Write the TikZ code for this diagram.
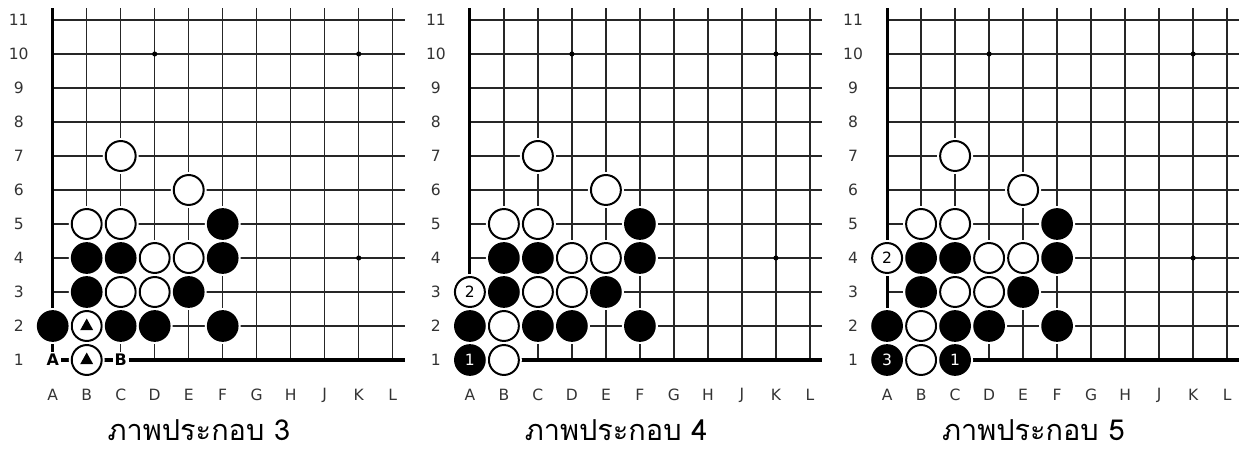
\documentclass[tikz,border=0pt]{standalone}
\usepackage{fontspec}
\setmainfont{DejaVu Sans}
\newfontfamily\thaifont[Script=Thai]{Loma}

\begin{document}
\begin{tikzpicture}[x=0.6cm,y=0.6cm,line join=miter,
  gridline/.style={line width=0.7pt,draw=black!85},
  edgeline/.style={line width=1.6pt},
  stonebase/.style={circle,inner sep=0pt,minimum size=0.528cm,
    preaction={draw=white,line width=3pt},font=\fontsize{7.8}{7.8}\selectfont},
  bstone/.style={stonebase,fill=black,draw=black,line width=0.9pt,text=white},
  wstone/.style={stonebase,fill=white,draw=black,line width=1pt,text=black},
  coordlbl/.style={font=\fontsize{7.8}{7.8}\selectfont,text=black!80},
  letterlbl/.style={fill=white,inner sep=1pt,font=\bfseries\fontsize{8}{8}\selectfont},
  caption/.style={anchor=base,inner sep=0pt,text depth=0pt,
    font=\thaifont\fontsize{14.5}{14.5}\selectfont}]
  \useasboundingbox (0,0) rectangle (36.44,13.235);
  \foreach \k/\num in {0/3,1/4,2/5} {
    \begin{scope}[shift={({1.55+12.27*\k},2.647)}]
      % grid
      \foreach \c in {1,...,10}
        \draw[gridline] (\c,0) -- (\c,10.35);
      \foreach \r in {1,...,10}
        \draw[gridline] (0,\r) -- (10.35,\r);
      \draw[edgeline] (0,10.35) -- (0,0) -- (10.35,0);
      \foreach \p in {(3,9),(9,9),(9,3)}
        \fill \p circle (0.075);
      % coordinates
      \foreach \r in {1,...,11}
        \node[coordlbl] (row\k-\r) at (-1,\r-1) {\r};
      \foreach \l [count=\i from 0] in {A,B,C,D,E,F,G,H,J,K,L}
        \node[coordlbl] (col\k-\l) at (\i,-1.03) {\l};
      % stones
      \foreach \x/\y [count=\n] in {2/6,4/5,1/4,2/4,3/3,4/3,2/2,3/2,1/1,1/0}
        \node[wstone] (w\k-\n) at (\x,\y) {};
      \foreach \x/\y [count=\n] in {5/4,1/3,2/3,5/3,1/2,4/2,0/1,2/1,3/1,5/1}
        \node[bstone] (b\k-\n) at (\x,\y) {};
      \node[caption] (cap\k) at (4.3,-2.36) {ภาพประกอบ \num};
    \end{scope}
  }
  % picture 3
  \begin{scope}[shift={(1.55,2.647)}]
    \fill (1,1) ++(-0.19,-0.12) -- ++(0.38,0) -- ++(-0.19,0.34) -- cycle;
    \fill (1,0) ++(-0.19,-0.12) -- ++(0.38,0) -- ++(-0.19,0.34) -- cycle;
    \node[letterlbl] (markA) at (0,0) {A};
    \node[letterlbl] (markB) at (2,0) {B};
  \end{scope}
  % picture 4
  \begin{scope}[shift={(13.82,2.647)}]
    \node[wstone] (mv4-2) at (0,2) {2};
    \node[bstone] (mv4-1) at (0,0) {1};
  \end{scope}
  % picture 5
  \begin{scope}[shift={(26.09,2.647)}]
    \node[wstone] (mv5-2) at (0,3) {2};
    \node[bstone] (mv5-3) at (0,0) {3};
    \node[bstone] (mv5-1) at (2,0) {1};
  \end{scope}
\end{tikzpicture}
\end{document}
